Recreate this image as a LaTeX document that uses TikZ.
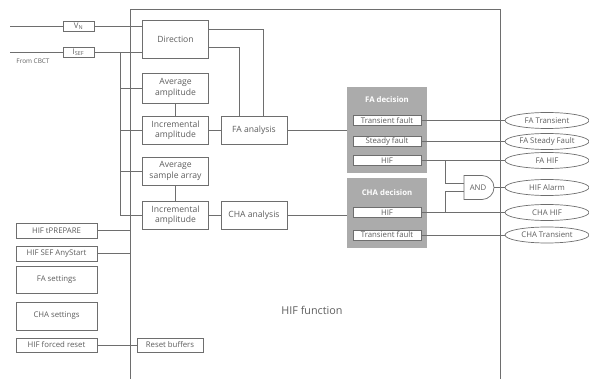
\documentclass[tikz,border=0pt]{standalone}
\usepackage{fontspec}
\setmainfont{Open Sans}
\usetikzlibrary{positioning,shapes.geometric,shapes.gates.logic.US}
\definecolor{linegray}{HTML}{6E6E6E}
\definecolor{textgray}{HTML}{5E5E5E}
\definecolor{panelgray}{HTML}{ABABAB}

\tikzset{
	wire/.style={draw=linegray, line width=.7pt},
	blockbox/.style={draw=linegray, line width=.7pt, fill=white, text=textgray,
		align=center, inner sep=0pt, minimum width=#1,
		font=\fontsize{8.6}{10.4}\selectfont},
	blockbox/.default=66pt,
	smallbox/.style={blockbox=#1, font=\fontsize{7.8}{8}\selectfont},
	smallbox/.default=68pt,
	panel/.style={fill=panelgray, inner sep=0pt, minimum width=80pt},
	paneltitle/.style={text=white, font=\bfseries\fontsize{7.8}{8}\selectfont},
	outlabel/.style={ellipse, draw=linegray, line width=.7pt, fill=white, text=textgray,
		inner sep=0pt, minimum width=84pt, minimum height=16pt,
		font=\fontsize{7.8}{8}\selectfont}
}

\begin{document}
\begin{tikzpicture}[x=1pt,y=-1pt]
	\useasboundingbox (0,0) rectangle (589,379);
	
	% HIF function frame (open at the bottom)
	\coordinate (fl) at (130,9);
	\coordinate (fr) at (500,9);
	\draw[wire] (fl |- 0,379) -- (fl) -- (fr) -- (fr |- 0,379);
	\node[text=textgray, font=\fontsize{10.8}{12}\selectfont] (hiffun) at (312,310) {HIF function};
	
	% inputs
	\coordinate (vnin) at (10,26);
	\coordinate (isefin) at (10,52);
	\node[smallbox=31pt, minimum height=10pt] (vn) at (78.5,26) {V\textsubscript{N}};
	\node[smallbox=31pt, minimum height=10pt] (isef) at (78.5,52) {I\textsubscript{SEF}};
	\node[text=textgray, font=\fontsize{6.4}{7}\selectfont] (cbct) at (33,61) {From CBCT};
	
	% processing blocks
	\node[blockbox, minimum height=38pt] (dir) at (175.5,39) {Direction};
	\node[blockbox, minimum height=30pt] (avgamp) at (175.5,88) {Average\\amplitude};
	\node[blockbox, minimum height=28pt] (incamp1) at (175.5,130) {Incremental\\amplitude};
	\node[blockbox, minimum height=28pt] (avgsa) at (175.5,171) {Average\\sample array};
	\node[blockbox, minimum height=28pt] (incamp2) at (175.5,215) {Incremental\\amplitude};
	\node[blockbox, minimum height=28pt] (faan) at (254,130) {FA analysis};
	\node[blockbox, minimum height=28pt] (chaan) at (254,215) {CHA analysis};
	
	% decision panels
	\node[panel, minimum height=86pt] (fadec) at (387,130) {};
	\node[paneltitle] (fadectitle) at (387,100) {FA decision};
	\node[smallbox, minimum height=10pt] (fatr) at (387,120.5) {Transient fault};
	\node[smallbox, minimum height=10pt] (fast) at (387,141.5) {Steady fault};
	\node[smallbox, minimum height=10pt] (fahif) at (387,160.5) {HIF};
	
	\node[panel, minimum height=70pt] (chadec) at (387,213) {};
	\node[paneltitle] (chadectitle) at (387,193) {CHA decision};
	\node[smallbox, minimum height=10pt] (chahif) at (387,212.5) {HIF};
	\node[smallbox, minimum height=10pt] (chatr) at (387,235) {Transient fault};
	
	\node[and gate US, draw=linegray, line width=.7pt, text=textgray, inner sep=0pt,
		minimum height=23pt, minimum width=30pt, logic gate inputs=nn,
		font=\fontsize{7.8}{8}\selectfont] (andg) at (478,187.5) {AND};
	
	% outputs
	\node[outlabel] (otr) at (547,120.5) {FA Transient};
	\node[outlabel] (ost) at (547,141.5) {FA Steady Fault};
	\node[outlabel] (ohif) at (547,160.5) {FA HIF};
	\node[outlabel] (oalarm) at (547,187.5) {HIF Alarm};
	\node[outlabel] (ochahif) at (547,212.5) {CHA HIF};
	\node[outlabel] (ochatr) at (547,235) {CHA Transient};
	
	% settings and commands
	\node[smallbox=81pt, minimum height=15pt] (prep) at (56.5,230.5) {HIF tPREPARE};
	\node[smallbox=81pt, minimum height=15pt] (anys) at (56.5,253.5) {HIF SEF AnyStart};
	\node[smallbox=81pt, minimum height=27pt] (fasets) at (56.5,279.5) {FA settings};
	\node[smallbox=81pt, minimum height=28pt] (chasets) at (56.5,316) {CHA settings};
	\node[smallbox=81pt, minimum height=14pt] (freset) at (56.5,345) {HIF forced reset};
	\node[smallbox=66pt, minimum height=14pt] (rbuf) at (170,345) {Reset buffers};
	
	% connections
	\draw[wire] (vnin) -- (vn);
	\draw[wire] (isefin) -- (isef);
	\draw[wire] (vn.east) -- (vn.east -| dir.west);
	\draw[wire] (isef.east) -- (isef.east -| dir.west);
	\coordinate (bustop) at (120,52);
	\draw[wire] (bustop) |- (incamp2.west);
	\draw[wire] (bustop |- avgamp) -- (avgamp.west);
	\draw[wire] (bustop |- incamp1) -- (incamp1.west);
	\draw[wire] (bustop |- avgsa) -- (avgsa.west);
	\draw[wire] (avgamp.south) -- (incamp1.north);
	\draw[wire] (avgsa.south) -- (incamp2.north);
	\draw[wire] (incamp1.east) -- (faan.west);
	\draw[wire] (incamp2.east) -- (chaan.west);
	\draw[wire] ([yshift=10pt]dir.east) -| ([xshift=9pt]faan.north);
	\draw[wire] ([yshift=-8pt]dir.east) -| ([xshift=-15pt]faan.north);
	\draw[wire] (faan.east) -- (faan.east -| fadec.west);
	\draw[wire] (chaan.east) -- (chaan.east -| chadec.west);
	
	\draw[wire] (fatr.east) -- (otr.west);
	\draw[wire] (fast.east) -- (ost.west);
	\draw[wire] (fahif.east) -- (ohif.west);
	\draw[wire] (chahif.east) -- (ochahif.west);
	\draw[wire] (chatr.east) -- (ochatr.west);
	\coordinate (jfa) at ([xshift=24pt]fahif.east);
	\coordinate (jcha) at ([xshift=24pt]chahif.east);
	\draw[wire] (jfa) |- (andg.input 1);
	\draw[wire] (jcha) |- (andg.input 2);
	\draw[wire] (andg.output) -- (oalarm.west);
	
	\draw[wire] (prep.east) -- (prep.east -| fl);
	\draw[wire] (anys.east) -- (anys.east -| fl);
	\draw[wire] (freset.east) -- (rbuf.west);
\end{tikzpicture}
\end{document}
